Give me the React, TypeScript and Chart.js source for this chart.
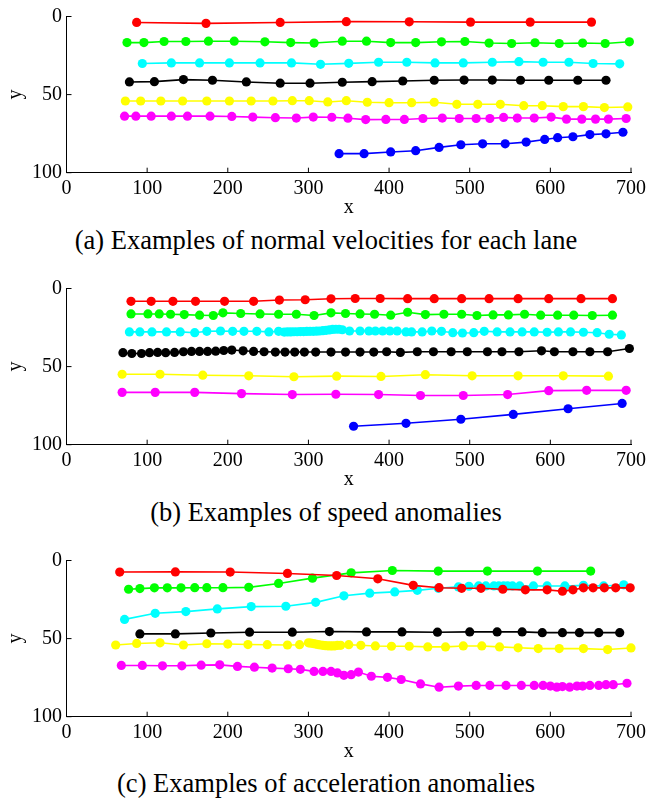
import React, { useEffect, useRef } from 'react';
import { Chart, registerables } from 'chart.js';

Chart.register(...registerables);

const FONT = "'Liberation Serif', 'Times New Roman', serif";

const RED = '#ff0000';
const GREEN = '#00ff00';
const CYAN = '#00ffff';
const BLACK = '#000000';
const YELLOW = '#ffff00';
const MAGENTA = '#ff00ff';
const BLUE = '#0000ff';

const X_TICKS = [0, 100, 200, 300, 400, 500, 600, 700];
const Y_TICKS = [0, 50, 100];

const CAPTIONS = [
  '(a) Examples of normal velocities for each lane',
  '(b) Examples of speed anomalies',
  '(c) Examples of acceleration anomalies',
];

// ---------- (a) normal velocities ----------
const A_RED_X = [87, 173, 265, 347, 425, 501, 575, 651];
const A_RED_Y = [3.8, 4.4, 3.8, 3.3, 3.4, 3.6, 3.6, 3.6];
const A_GREEN_X = [75, 96, 121, 148, 176, 208, 246, 278, 307, 342, 372, 402, 433, 465, 494, 524, 552, 581, 611, 640, 668, 698];
const A_GREEN_Y = [16.7, 16.7, 16.0, 16.0, 15.8, 15.8, 16.2, 16.7, 17.0, 15.8, 15.8, 16.7, 16.7, 16.2, 16.0, 17.0, 17.3, 16.8, 17.3, 17.0, 17.3, 16.2];
const A_CYAN_X = [94, 130, 165, 202, 240, 279, 315, 350, 387, 422, 457, 492, 528, 561, 591, 623, 653, 686];
const A_CYAN_Y = [30.1, 29.7, 29.7, 29.7, 29.7, 29.7, 30.6, 30.0, 29.3, 29.3, 29.7, 29.7, 29.3, 28.9, 29.3, 29.3, 30.1, 30.3];
const A_BLACK_X = [78, 109, 145, 181, 223, 265, 302, 342, 379, 417, 456, 493, 528, 563, 598, 634, 669];
const A_BLACK_Y = [41.9, 41.7, 40.4, 40.8, 41.9, 42.7, 42.7, 42.1, 41.7, 41.3, 40.8, 40.7, 40.7, 40.8, 40.8, 40.8, 40.8];
const A_YELLOW_X = [73, 92, 117, 144, 174, 202, 229, 256, 280, 301, 324, 347, 373, 400, 428, 456, 484, 510, 538, 567, 590, 616, 641, 667, 696];
const A_YELLOW_Y = [54.1, 54.1, 54.1, 54.1, 54.1, 54.1, 54.1, 54.1, 53.9, 53.9, 54.7, 53.9, 54.9, 55.2, 55.2, 54.9, 56.2, 56.2, 56.2, 57.1, 57.1, 57.7, 57.7, 58.3, 57.9];
const A_MAGENTA_X = [72, 86, 105, 130, 150, 178, 205, 231, 259, 285, 306, 329, 349, 371, 396, 419, 442, 466, 487, 508, 525, 542, 559, 580, 601, 620, 639, 656, 672, 694];
const A_MAGENTA_Y = [63.8, 63.8, 63.8, 63.8, 63.8, 63.8, 64.0, 64.4, 64.8, 65.0, 64.4, 64.5, 65.1, 66.0, 65.9, 65.9, 65.3, 65.0, 65.3, 65.3, 65.3, 64.6, 65.0, 65.0, 64.4, 65.7, 65.7, 65.7, 65.7, 65.3];
const A_BLUE_X = [338, 369, 402, 433, 462, 489, 516, 544, 570, 593, 609, 628, 649, 669, 690];
const A_BLUE_Y = [87.8, 87.8, 86.7, 85.9, 83.8, 82.1, 81.5, 81.5, 80.4, 78.7, 77.6, 77.0, 75.6, 75.1, 74.1];

// ---------- (b) speed anomalies ----------
const B_RED_X = [80, 105, 132, 160, 196, 232, 264, 296, 328, 358, 389, 423, 456, 490, 524, 560, 598, 638, 677];
const B_RED_Y = [8.2, 8.2, 8.2, 8.2, 8.2, 8.2, 7.4, 7.2, 6.6, 6.4, 6.4, 6.5, 6.5, 6.5, 6.5, 6.5, 6.5, 6.5, 6.5];
const B_GREEN_X = [80, 101, 115, 129, 146, 165, 182, 194, 216, 240, 263, 285, 307, 328, 346, 364, 382, 402, 423, 445, 468, 490, 509, 529, 548, 568, 588, 609, 629, 652, 677];
const B_GREEN_Y = [16.3, 16.3, 16.3, 16.5, 16.7, 17.1, 17.3, 15.6, 16.0, 16.3, 16.5, 16.5, 17.3, 15.6, 16.0, 16.3, 16.5, 17.1, 15.2, 16.7, 16.5, 16.5, 17.3, 16.9, 16.9, 16.5, 17.1, 17.1, 17.1, 17.3, 17.1];
const B_CYAN_X = [78, 91, 106, 124, 141, 159, 174, 191, 206, 220, 236, 251, 263, 270, 274, 278, 282, 286, 290, 294, 298, 302, 306, 310, 314, 318, 322, 326, 330, 334, 338, 342, 351, 364, 375, 383, 392, 401, 410, 421, 428, 441, 453, 465, 479, 491, 505, 518, 534, 550, 565, 580, 596, 610, 625, 641, 658, 673, 688];
const B_CYAN_Y = [27.8, 27.8, 27.8, 27.8, 27.8, 28.3, 27.4, 27.2, 27.4, 27.4, 27.4, 27.8, 27.4, 27.9, 27.8, 27.8, 27.7, 27.7, 27.6, 27.6, 27.5, 27.4, 27.4, 27.3, 27.2, 27.0, 26.8, 26.5, 26.2, 26.1, 26.1, 26.4, 27.2, 27.2, 27.2, 27.2, 27.2, 27.2, 27.2, 27.8, 27.8, 27.8, 27.2, 27.4, 28.3, 28.5, 28.3, 27.4, 27.8, 27.8, 27.8, 27.8, 28.0, 27.8, 27.8, 28.0, 28.3, 29.3, 29.7];
const B_BLACK_X = [70, 81, 93, 103, 113, 123, 134, 145, 155, 165, 175, 185, 195, 205, 219, 232, 245, 259, 271, 283, 295, 309, 328, 346, 364, 381, 397, 414, 435, 455, 477, 497, 522, 540, 561, 589, 605, 628, 649, 671, 698];
const B_BLACK_Y = [41.1, 41.6, 41.6, 41.1, 40.9, 41.1, 40.9, 40.5, 40.3, 40.3, 40.3, 40.1, 39.7, 39.4, 39.9, 40.3, 40.5, 40.7, 40.7, 40.7, 40.7, 40.7, 40.7, 40.7, 40.7, 40.7, 40.5, 40.9, 40.5, 40.5, 40.5, 40.5, 40.5, 40.5, 40.5, 39.9, 40.5, 40.5, 40.5, 40.5, 38.4];
const B_YELLOW_X = [69, 116, 169, 226, 282, 335, 390, 445, 503, 560, 616, 672];
const B_YELLOW_Y = [54.9, 54.9, 55.5, 55.9, 56.5, 56.1, 56.3, 55.2, 55.9, 55.9, 55.9, 56.1];
const B_MAGENTA_X = [69, 110, 159, 217, 280, 334, 387, 439, 492, 547, 598, 645, 694];
const B_MAGENTA_Y = [66.5, 66.5, 66.5, 67.3, 67.9, 67.7, 67.9, 68.5, 68.5, 67.9, 65.4, 65.2, 65.2];
const B_BLUE_X = [356, 421, 489, 554, 622, 689];
const B_BLUE_Y = [88.2, 86.3, 83.7, 80.6, 77.0, 73.6];

// ---------- (c) acceleration anomalies ----------
const C_RED_X = [66, 135, 203, 274, 335, 386, 430, 462, 490, 514, 541, 569, 596, 615, 628, 641, 653, 667, 681, 699];
const C_RED_Y = [7.4, 7.3, 7.4, 8.3, 9.6, 11.7, 15.9, 17.4, 17.8, 17.8, 18.4, 18.8, 18.8, 19.7, 18.8, 17.5, 17.5, 17.5, 17.5, 17.5];
const C_GREEN_X = [77, 91, 109, 125, 142, 159, 174, 194, 226, 263, 305, 353, 404, 461, 522, 584, 650];
const C_GREEN_Y = [18.4, 18.0, 17.5, 17.5, 17.5, 17.4, 17.4, 17.4, 17.2, 14.7, 11.3, 7.9, 6.4, 6.8, 6.8, 6.8, 6.8];
const C_CYAN_X = [72, 110, 148, 187, 229, 272, 309, 344, 376, 407, 435, 461, 486, 499, 511, 520, 530, 536, 542, 547, 553, 562, 579, 596, 618, 641, 666, 691];
const C_CYAN_Y = [37.7, 33.8, 32.7, 31.0, 29.5, 29.3, 26.8, 22.6, 20.9, 20.1, 19.1, 17.8, 16.9, 16.5, 16.3, 16.3, 16.3, 16.3, 16.3, 16.3, 16.3, 16.3, 16.3, 16.3, 16.3, 15.9, 16.3, 15.6];
const C_BLACK_X = [91, 135, 179, 227, 280, 326, 372, 416, 460, 500, 534, 565, 590, 615, 636, 660, 686];
const C_BLACK_Y = [47.0, 47.0, 46.4, 45.9, 45.9, 45.5, 45.7, 45.7, 45.9, 45.7, 45.7, 45.7, 46.2, 46.2, 46.2, 46.2, 46.2];
const C_YELLOW_X = [61, 87, 116, 145, 174, 200, 225, 249, 274, 289, 300, 303, 306, 309, 312, 315, 318, 321, 324, 327, 330, 333, 336, 340, 350, 365, 383, 403, 425, 448, 470, 492, 515, 537, 560, 585, 611, 641, 671, 700];
const C_YELLOW_Y = [54.1, 53.1, 52.7, 54.1, 53.3, 53.5, 53.8, 53.9, 54.1, 53.9, 52.7, 52.9, 53.2, 53.5, 53.8, 54.1, 54.3, 54.5, 54.6, 54.7, 54.7, 54.6, 54.4, 54.3, 53.9, 54.3, 54.7, 54.9, 54.9, 55.3, 55.3, 54.7, 54.7, 55.3, 55.9, 56.4, 56.4, 56.4, 57.0, 56.0];
const C_MAGENTA_X = [68, 94, 119, 143, 167, 190, 212, 233, 255, 275, 290, 307, 318, 328, 336, 344, 353, 362, 378, 398, 415, 439, 462, 486, 508, 525, 545, 564, 580, 591, 600, 608, 615, 624, 633, 640, 649, 660, 669, 678, 695];
const C_MAGENTA_Y = [67.2, 67.2, 67.4, 67.4, 67.0, 66.8, 67.8, 68.3, 68.9, 69.3, 69.7, 71.0, 71.0, 71.0, 72.0, 73.5, 73.1, 71.4, 74.1, 74.8, 76.2, 79.0, 81.1, 80.4, 80.0, 80.0, 80.0, 80.0, 80.0, 80.0, 80.4, 81.1, 80.7, 81.1, 80.4, 80.4, 80.0, 80.0, 79.5, 79.5, 78.6];

type Series = { color: string; xs: number[]; ys: number[] };

const PANELS: Series[][] = [
  [
    { color: RED, xs: A_RED_X, ys: A_RED_Y },
    { color: GREEN, xs: A_GREEN_X, ys: A_GREEN_Y },
    { color: CYAN, xs: A_CYAN_X, ys: A_CYAN_Y },
    { color: BLACK, xs: A_BLACK_X, ys: A_BLACK_Y },
    { color: YELLOW, xs: A_YELLOW_X, ys: A_YELLOW_Y },
    { color: MAGENTA, xs: A_MAGENTA_X, ys: A_MAGENTA_Y },
    { color: BLUE, xs: A_BLUE_X, ys: A_BLUE_Y },
  ],
  [
    { color: RED, xs: B_RED_X, ys: B_RED_Y },
    { color: GREEN, xs: B_GREEN_X, ys: B_GREEN_Y },
    { color: CYAN, xs: B_CYAN_X, ys: B_CYAN_Y },
    { color: BLACK, xs: B_BLACK_X, ys: B_BLACK_Y },
    { color: YELLOW, xs: B_YELLOW_X, ys: B_YELLOW_Y },
    { color: MAGENTA, xs: B_MAGENTA_X, ys: B_MAGENTA_Y },
    { color: BLUE, xs: B_BLUE_X, ys: B_BLUE_Y },
  ],
  [
    { color: RED, xs: C_RED_X, ys: C_RED_Y },
    { color: GREEN, xs: C_GREEN_X, ys: C_GREEN_Y },
    { color: CYAN, xs: C_CYAN_X, ys: C_CYAN_Y },
    { color: BLACK, xs: C_BLACK_X, ys: C_BLACK_Y },
    { color: YELLOW, xs: C_YELLOW_X, ys: C_YELLOW_Y },
    { color: MAGENTA, xs: C_MAGENTA_X, ys: C_MAGENTA_Y },
  ],
];

const CANVAS_W = 660;
const CANVAS_H = 220;
const PANEL_TOPS = [0, 271.7, 543.5];
const CAPTION_TOPS = [227, 498.7, 770];

const inwardTicks = {
  id: 'inwardTicks',
  afterDraw(chart: any) {
    const { ctx, chartArea } = chart;
    const xs = chart.scales.x;
    const ys = chart.scales.y;
    ctx.save();
    ctx.strokeStyle = '#000';
    ctx.lineWidth = 1;
    ctx.beginPath();
    xs.ticks.forEach((t: any) => {
      const px = xs.getPixelForValue(t.value);
      ctx.moveTo(px, chartArea.bottom);
      ctx.lineTo(px, chartArea.bottom - 5);
    });
    ys.ticks.forEach((t: any) => {
      const py = ys.getPixelForValue(t.value);
      ctx.moveTo(chartArea.left, py);
      ctx.lineTo(chartArea.left + 5, py);
    });
    ctx.stroke();
    ctx.restore();
  },
};

function Panel({ series, top }: { series: Series[]; top: number }) {
  const ref = useRef<HTMLCanvasElement | null>(null);
  useEffect(() => {
    if (!ref.current) return;
    const chart = new Chart(ref.current, {
      type: 'line',
      data: {
        datasets: series.map((s) => ({
          data: s.xs.map((x, i) => ({ x, y: s.ys[i] })),
          borderColor: s.color,
          backgroundColor: s.color,
          pointBackgroundColor: s.color,
          pointBorderColor: s.color,
          pointRadius: 4.6,
          pointBorderWidth: 0,
          borderWidth: 1.6,
          tension: 0,
          clip: false as any,
        })),
      },
      options: {
        responsive: false,
        animation: false,
        events: [],
        layout: { padding: { top: 14.3, right: CANVAS_W - 631, left: 0, bottom: 0 } },
        plugins: { legend: { display: false }, tooltip: { enabled: false } },
        scales: {
          x: {
            type: 'linear',
            min: 0,
            max: 700,
            afterBuildTicks: (scale: any) => {
              scale.ticks = X_TICKS.map((v) => ({ value: v }));
            },
            afterFit: (scale: any) => {
              scale.height = CANVAS_H - 172.7;
            },
            ticks: { font: { family: FONT, size: 20 }, color: '#000', padding: 4, maxRotation: 0, autoSkip: false },
            grid: { display: true, drawOnChartArea: false, drawTicks: false },
            border: { display: true, color: '#000', width: 1 },
            title: { display: true, text: 'x', color: '#000', font: { family: FONT, size: 20 }, padding: { top: 0, bottom: 0 } },
          },
          y: {
            type: 'linear',
            min: 0,
            max: 100,
            reverse: true,
            afterBuildTicks: (scale: any) => {
              scale.ticks = Y_TICKS.map((v) => ({ value: v }));
            },
            afterFit: (scale: any) => {
              scale.width = 66.5;
            },
            ticks: { font: { family: FONT, size: 20 }, color: '#000', padding: 4.5, autoSkip: false },
            grid: { display: true, drawOnChartArea: false, drawTicks: false },
            border: { display: true, color: '#000', width: 1 },
            title: { display: true, text: 'y', color: '#000', font: { family: FONT, size: 20 }, padding: { top: 4, bottom: 0 } },
          },
        },
      } as any,
      plugins: [inwardTicks],
    });
    return () => chart.destroy();
  }, [series]);
  return (
    <canvas
      ref={ref}
      width={CANVAS_W}
      height={CANVAS_H}
      style={{ position: 'absolute', left: 0, top, width: CANVAS_W, height: CANVAS_H }}
    />
  );
}

export default function App() {
  return (
    <div style={{ position: 'absolute', left: 0, top: 0, width: 660, height: 801, background: '#fff', overflow: 'hidden' }}>
      {PANELS.map((p, i) => (
        <Panel key={i} series={p} top={PANEL_TOPS[i]} />
      ))}
      {CAPTIONS.map((c, i) => (
        <div
          key={'c' + i}
          style={{
            position: 'absolute',
            left: 0,
            width: 652,
            top: CAPTION_TOPS[i],
            textAlign: 'center',
            fontFamily: FONT,
            fontSize: 26.5,
            lineHeight: '27px',
            color: '#000',
            whiteSpace: 'nowrap',
          }}
        >
          {c}
        </div>
      ))}
    </div>
  );
}
